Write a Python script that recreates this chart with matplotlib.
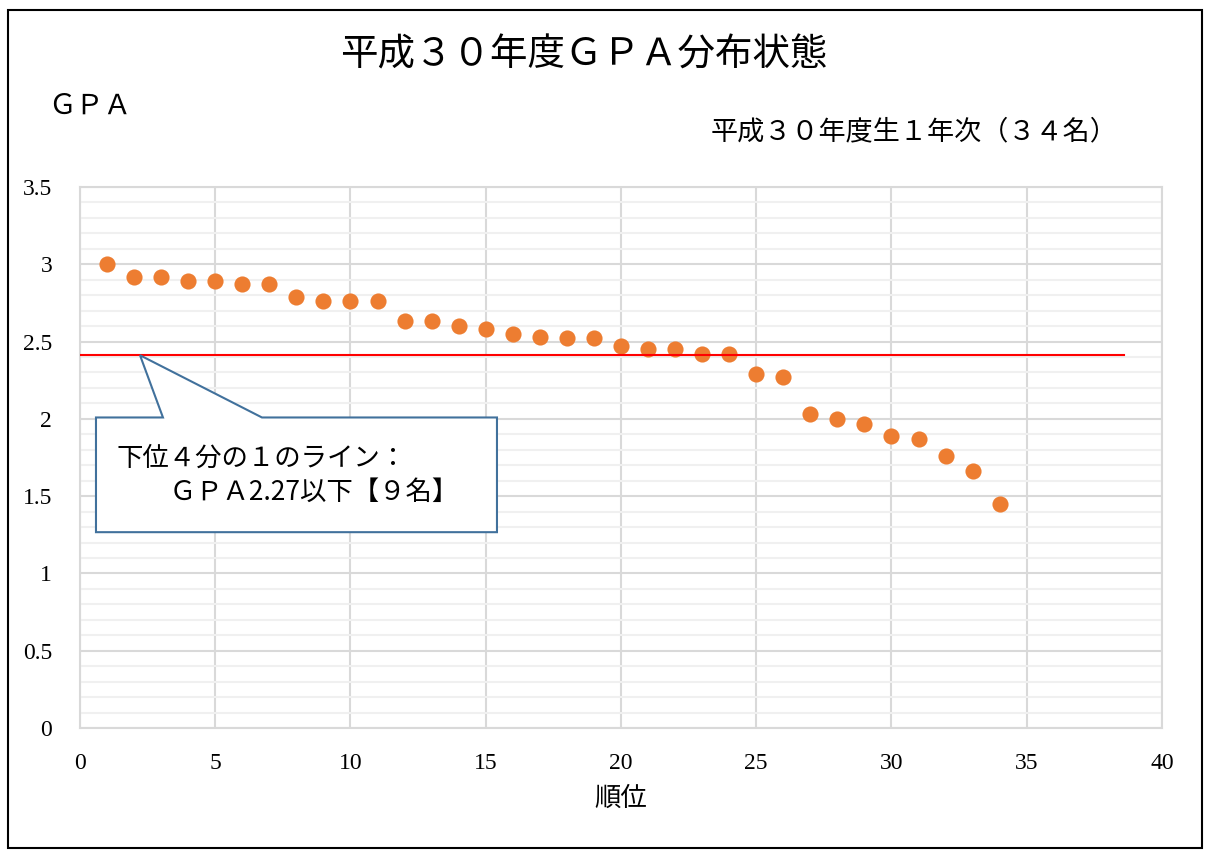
import numpy as np
import matplotlib
import matplotlib.pyplot as plt
from matplotlib.patches import Polygon, Rectangle
from matplotlib.ticker import MultipleLocator, FuncFormatter

matplotlib.use("Agg")

plt.rcParams['font.family'] = ['Noto Sans CJK JP', 'DejaVu Sans']

# 順位と GPA
rank = np.arange(1, 35)
gpa = [3.00, 2.92, 2.92, 2.89, 2.89, 2.87, 2.87, 2.79, 2.76, 2.76,
       2.76, 2.63, 2.63, 2.60, 2.58, 2.55, 2.53, 2.52, 2.52, 2.47,
       2.45, 2.45, 2.42, 2.42, 2.29, 2.27, 2.03, 2.00, 1.97, 1.89,
       1.87, 1.76, 1.66, 1.45]

# 下位4分の1ライン
line_y = 2.41
line_x = [0, 38.6]

title = "平成３０年度ＧＰＡ分布状態"
subtitle = "平成３０年度生１年次（３４名）"
callout = "下位４分の１のライン：\n　　ＧＰＡ2.27以下【９名】"

fig = plt.figure(figsize=(12.08, 8.5), dpi=100)
ax = fig.add_axes([0.0662, 0.1435, 0.8957, 0.6365])

ax.scatter(rank, gpa, s=135, color="#ED7D31", zorder=3, linewidths=0)
ax.plot(line_x, [line_y, line_y], color="red", linewidth=1.5, zorder=4)

ax.set_xlim(0, 40)
ax.set_ylim(0, 3.5)
ax.xaxis.set_major_locator(MultipleLocator(5))
ax.yaxis.set_major_locator(MultipleLocator(0.5))
ax.yaxis.set_minor_locator(MultipleLocator(0.1))
ax.yaxis.set_major_formatter(FuncFormatter(lambda v, p: f"{v:g}"))
ax.grid(which="major", color="#D9D9D9", linewidth=1.5)
ax.grid(which="minor", axis="y", color="#F0F0F0", linewidth=1.5)
ax.set_axisbelow(True)
for sp in ax.spines.values():
    sp.set_color("#D9D9D9")
    sp.set_linewidth(1.5)
ax.tick_params(which="both", length=0, labelsize=17)
ax.tick_params(axis="y", pad=20)
ax.tick_params(axis="x", pad=18)
for lab in ax.get_xticklabels() + ax.get_yticklabels():
    lab.set_family("Liberation Serif")

ax.set_xlabel("順位", fontsize=19, labelpad=8)

# callout box with pointer
box = [(0.0148, 0.574), (0.0767, 0.574), (0.0555, 0.689), (0.1682, 0.574),
       (0.3854, 0.574), (0.3854, 0.362), (0.0148, 0.362)]
ax.add_patch(Polygon(box, closed=True, transform=ax.transAxes,
                     facecolor="white", edgecolor="#41719C", linewidth=1.5,
                     zorder=5))
ax.text(0.034, 0.467, callout, transform=ax.transAxes, fontsize=19,
        va="center", ha="left", linespacing=1.3, zorder=6)

fig.text(0.483, 0.935, title, fontsize=27, ha="center", va="center")
fig.text(0.04, 0.876, "ＧＰＡ", fontsize=20, ha="left", va="center")
fig.text(0.925, 0.845, subtitle, fontsize=19.5, ha="right", va="center")

fig.patches.append(Rectangle((0.0066, 0.0024), 0.9885, 0.986,
                             transform=fig.transFigure, fill=False,
                             edgecolor="black", linewidth=1.5))

fig.savefig("out.png", dpi=100)
